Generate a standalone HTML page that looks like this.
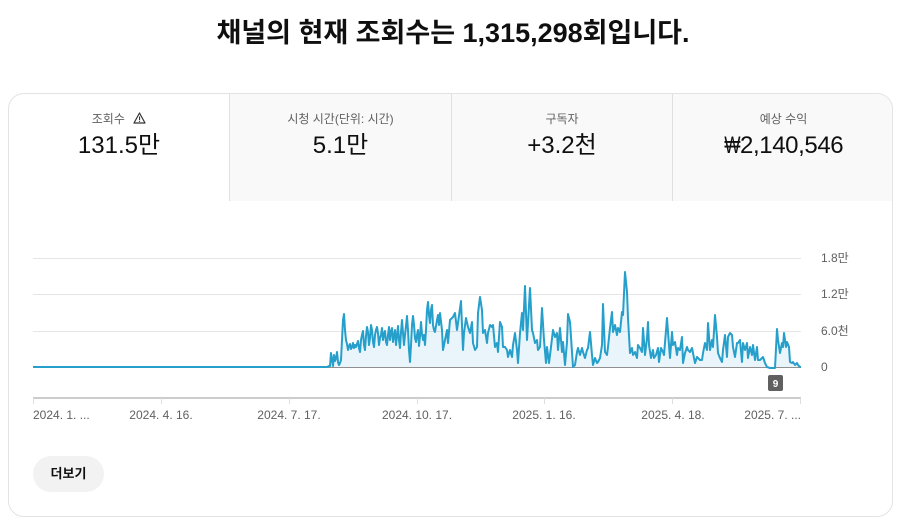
<!DOCTYPE html>
<html><head><meta charset="utf-8">
<style>
html,body{margin:0;padding:0;background:#fff;}
body{width:908px;height:525px;position:relative;overflow:hidden;font-family:"Liberation Sans","Noto Sans CJK KR",sans-serif;color:#0f0f0f;}
.title{position:absolute;left:0;top:13px;width:906px;text-align:center;font-size:27px;font-weight:bold;line-height:40px;letter-spacing:0;}
.card{position:absolute;left:8px;top:93px;width:885px;height:424px;box-sizing:border-box;border:1px solid #e3e3e3;border-radius:16px;overflow:hidden;background:#fff;}
.tab{position:absolute;top:0;height:107px;box-sizing:border-box;text-align:center;}
.tab.off{background:#f9f9f9;border-left:1px solid #e0e0e0;}
.lab{position:absolute;left:0;right:0;top:17px;font-size:12px;line-height:16px;color:#606060;}
.val{position:absolute;left:0;right:0;top:37px;font-size:24px;line-height:30px;color:#0f0f0f;}
.won{display:inline-block;transform:scaleX(0.72);transform-origin:right center;margin-left:-6px;}
.btn{position:absolute;left:33px;top:456px;width:71px;height:36px;border-radius:18px;background:#f2f2f2;font-size:13px;font-weight:bold;line-height:36px;text-align:center;color:#0f0f0f;}
svg{position:absolute;left:0;top:0;}
</style></head><body>
<div class="title">채널의 현재 조회수는 1,315,298회입니다.</div>
<div class="card">
  <div class="tab" style="left:0;width:220px;">
    <div class="lab">조회수 <svg style="position:relative;display:inline-block;vertical-align:-1px;margin-left:5px" width="13" height="12" viewBox="0 0 13 12"><path d="M6.5 1 L12 11 L1 11 Z" fill="none" stroke="#333" stroke-width="1.2" stroke-linejoin="round"/><rect x="6" y="4.5" width="1.1" height="3.5" fill="#333"/><rect x="6" y="8.8" width="1.1" height="1.1" fill="#333"/></svg></div>
    <div class="val">131.5만</div>
  </div>
  <div class="tab off" style="left:220px;width:222px;">
    <div class="lab">시청 시간(단위: 시간)</div>
    <div class="val">5.1만</div>
  </div>
  <div class="tab off" style="left:442px;width:221px;">
    <div class="lab">구독자</div>
    <div class="val">+3.2천</div>
  </div>
  <div class="tab off" style="left:663px;width:222px;">
    <div class="lab">예상 수익</div>
    <div class="val" style="letter-spacing:-0.4px"><span class="won">₩</span>2,140,546</div>
  </div>
</div>
<svg width="908" height="525" viewBox="0 0 908 525" style="font-family:'Liberation Sans','Noto Sans CJK KR',sans-serif;">
  <g stroke="#e5e5e5" stroke-width="1">
    <line x1="33" y1="258.5" x2="801" y2="258.5"/>
    <line x1="33" y1="294.5" x2="801" y2="294.5"/>
    <line x1="33" y1="331.5" x2="801" y2="331.5"/>
  </g>
  <line x1="33" y1="367.5" x2="801" y2="367.5" stroke="#909090" stroke-width="1"/>
  <g font-size="12" fill="#606060">
    <text x="821" y="262">1.8만</text>
    <text x="821" y="298">1.2만</text>
    <text x="821" y="335">6.0천</text>
    <text x="821" y="371">0</text>
  </g>
  <polygon fill="#2aa0cf" fill-opacity="0.1" points="33,367 325,367 327,367 329,366 330,366 331,353 333,366 334,355 335,361 336,358 337,352 338,362 339,365 340,363 341,360 342,340 343,320 344,314 345,330 346,340 347,344 348,350 349,346 350,344 351,349 352,347 353,343 354,348 355,345 356,347 357,344 358,341 359,348 360,352 361,340 362,335 363,331 364,345 365,350 366,336 367,327 368,332 369,345 370,338 371,325 372,330 373,342 374,347 375,335 376,330 377,327 378,333 379,345 380,338 381,335 382,328 383,340 384,334 385,331 386,342 387,345 388,335 389,327 390,340 391,332 392,328 393,342 394,336 395,330 396,345 397,336 398,326 399,340 400,348 401,332 402,320 403,333 404,345 405,335 406,326 407,316 408,330 409,350 410,362 411,345 412,325 413,316 414,325 415,338 416,342 417,335 418,330 419,346 420,336 421,322 422,334 423,340 424,335 425,345 426,330 427,310 428,302 429,315 430,323 431,310 432,305 433,325 434,330 435,332 436,326 437,320 438,315 439,325 440,313 442,330 443,350 445,340 447,330 448,343 450,320 453,317 455,313 457,330 458,323 461,301 463,350 464,333 466,318 468,327 470,333 472,322 473,343 475,350 477,347 478,313 480,297 482,310 483,333 485,330 487,343 488,333 490,325 492,327 493,325 495,347 497,343 498,352 500,322 502,327 503,347 505,347 507,350 508,357 510,350 512,357 513,345 515,333 517,350 518,363 520,333 522,313 523,330 525,286 527,340 528,323 530,288 532,330 533,333 535,343 537,340 538,350 540,347 542,308 544,340 546,363 547,347 549,363 551,347 553,330 555,337 557,333 558,350 560,328 562,352 563,342 565,365 567,342 568,314 570,322 572,352 573,367 575,365 577,352 578,348 580,355 582,348 583,352 585,358 587,350 588,348 590,332 592,355 593,365 595,358 597,363 598,362 600,358 602,345 603,304 605,352 607,355 608,347 610,328 612,312 613,332 615,325 617,335 618,328 620,332 622,312 623,315 625,272 627,292 628,318 630,353 632,348 633,355 635,352 637,358 638,345 640,348 642,352 643,328 645,355 647,338 648,322 649,345 651,358 653,350 654,358 656,355 658,348 659,362 661,348 663,352 664,355 667,318 668,332 670,358 672,332 673,345 675,342 677,355 678,348 680,350 682,337 683,363 685,353 687,347 688,350 690,352 692,348 693,353 695,363 697,357 698,358 700,360 702,360 703,353 705,343 707,350 708,323 710,350 712,340 713,347 715,315 717,337 718,353 720,358 722,362 723,350 725,335 727,357 728,337 730,333 732,335 733,347 735,357 737,343 738,343 740,340 742,362 743,343 745,350 747,343 748,358 750,347 752,355 753,345 755,360 757,347 758,360 760,360 762,358 763,357 765,363 767,367 770,368 775,368 777,329 778,340 780,353 782,343 783,347 784,333 786,347 787,342 789,347 790,362 792,363 793,362 795,365 797,363 798,365 800,367 801,367"/>
  <polyline fill="none" stroke="#269fcb" stroke-width="2" stroke-linejoin="round" points="33,367 325,367 327,367 329,366 330,366 331,353 333,366 334,355 335,361 336,358 337,352 338,362 339,365 340,363 341,360 342,340 343,320 344,314 345,330 346,340 347,344 348,350 349,346 350,344 351,349 352,347 353,343 354,348 355,345 356,347 357,344 358,341 359,348 360,352 361,340 362,335 363,331 364,345 365,350 366,336 367,327 368,332 369,345 370,338 371,325 372,330 373,342 374,347 375,335 376,330 377,327 378,333 379,345 380,338 381,335 382,328 383,340 384,334 385,331 386,342 387,345 388,335 389,327 390,340 391,332 392,328 393,342 394,336 395,330 396,345 397,336 398,326 399,340 400,348 401,332 402,320 403,333 404,345 405,335 406,326 407,316 408,330 409,350 410,362 411,345 412,325 413,316 414,325 415,338 416,342 417,335 418,330 419,346 420,336 421,322 422,334 423,340 424,335 425,345 426,330 427,310 428,302 429,315 430,323 431,310 432,305 433,325 434,330 435,332 436,326 437,320 438,315 439,325 440,313 442,330 443,350 445,340 447,330 448,343 450,320 453,317 455,313 457,330 458,323 461,301 463,350 464,333 466,318 468,327 470,333 472,322 473,343 475,350 477,347 478,313 480,297 482,310 483,333 485,330 487,343 488,333 490,325 492,327 493,325 495,347 497,343 498,352 500,322 502,327 503,347 505,347 507,350 508,357 510,350 512,357 513,345 515,333 517,350 518,363 520,333 522,313 523,330 525,286 527,340 528,323 530,288 532,330 533,333 535,343 537,340 538,350 540,347 542,308 544,340 546,363 547,347 549,363 551,347 553,330 555,337 557,333 558,350 560,328 562,352 563,342 565,365 567,342 568,314 570,322 572,352 573,367 575,365 577,352 578,348 580,355 582,348 583,352 585,358 587,350 588,348 590,332 592,355 593,365 595,358 597,363 598,362 600,358 602,345 603,304 605,352 607,355 608,347 610,328 612,312 613,332 615,325 617,335 618,328 620,332 622,312 623,315 625,272 627,292 628,318 630,353 632,348 633,355 635,352 637,358 638,345 640,348 642,352 643,328 645,355 647,338 648,322 649,345 651,358 653,350 654,358 656,355 658,348 659,362 661,348 663,352 664,355 667,318 668,332 670,358 672,332 673,345 675,342 677,355 678,348 680,350 682,337 683,363 685,353 687,347 688,350 690,352 692,348 693,353 695,363 697,357 698,358 700,360 702,360 703,353 705,343 707,350 708,323 710,350 712,340 713,347 715,315 717,337 718,353 720,358 722,362 723,350 725,335 727,357 728,337 730,333 732,335 733,347 735,357 737,343 738,343 740,340 742,362 743,343 745,350 747,343 748,358 750,347 752,355 753,345 755,360 757,347 758,360 760,360 762,358 763,357 765,363 767,367 770,368 775,368 777,329 778,340 780,353 782,343 783,347 784,333 786,347 787,342 789,347 790,362 792,363 793,362 795,365 797,363 798,365 800,367 801,367"/>
  <rect x="768" y="375" width="15" height="16" rx="2" fill="#606060"/>
  <text x="775.5" y="387" font-size="10" font-weight="bold" fill="#fff" text-anchor="middle">9</text>
  <line x1="33" y1="398" x2="801" y2="398" stroke="#cccccc" stroke-width="2"/>
  <g stroke="#dddddd" stroke-width="1">
    <line x1="33.5" y1="398" x2="33.5" y2="404"/>
    <line x1="161.5" y1="398" x2="161.5" y2="404"/>
    <line x1="289.5" y1="398" x2="289.5" y2="404"/>
    <line x1="417.5" y1="398" x2="417.5" y2="404"/>
    <line x1="544.5" y1="398" x2="544.5" y2="404"/>
    <line x1="672.5" y1="398" x2="672.5" y2="404"/>
    <line x1="800.5" y1="398" x2="800.5" y2="404"/>
  </g>
  <g font-size="12" fill="#606060">
    <text x="33" y="419">2024. 1. ...</text>
    <text x="161" y="419" text-anchor="middle">2024. 4. 16.</text>
    <text x="289" y="419" text-anchor="middle">2024. 7. 17.</text>
    <text x="417" y="419" text-anchor="middle">2024. 10. 17.</text>
    <text x="544" y="419" text-anchor="middle">2025. 1. 16.</text>
    <text x="673" y="419" text-anchor="middle">2025. 4. 18.</text>
    <text x="801" y="419" text-anchor="end">2025. 7. ...</text>
  </g>
</svg>
<div class="btn">더보기</div>
</body></html>
